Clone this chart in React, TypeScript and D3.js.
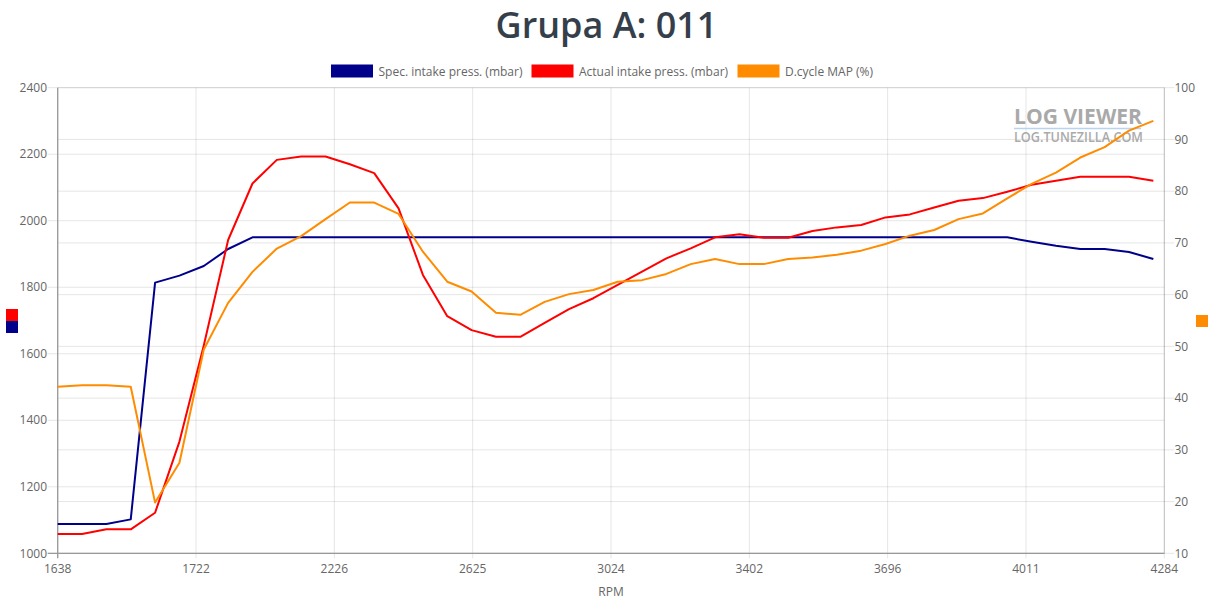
import React from "react";
import * as d3 from "d3";

const TITLE = "Grupa A: 011";
const X_TICK_LABELS = ["1638", "1722", "2226", "2625", "3024", "3402", "3696", "4011", "4284"];
const LEFT_TICKS = [1000, 1200, 1400, 1600, 1800, 2000, 2200, 2400];
const RIGHT_TICKS = [10, 20, 30, 40, 50, 60, 70, 80, 90, 100];

const SERIES_NAMES = ["Spec. intake press. (mbar)", "Actual intake press. (mbar)", "D.cycle MAP (%)"];
const SERIES_COLORS = ["#00008b", "#ff0000", "#ff8c00"];

const specIntake = [
  1088, 1088, 1088, 1102, 1814, 1835, 1864, 1915, 1950, 1950,
  1950, 1950, 1950, 1950, 1950, 1950, 1950, 1950, 1950, 1950,
  1950, 1950, 1950, 1950, 1950, 1950, 1950, 1950, 1950, 1950,
  1950, 1950, 1950, 1950, 1950, 1950, 1950, 1950, 1950, 1950,
  1937, 1925, 1915, 1915, 1906, 1885,
];

const actualIntake = [
  1058, 1058, 1072, 1072, 1122, 1336, 1625, 1942, 2112, 2183,
  2193, 2193, 2170, 2143, 2037, 1837, 1713, 1671, 1651, 1651,
  1693, 1734, 1767, 1807, 1847, 1887, 1917, 1950, 1959, 1949,
  1949, 1969, 1980, 1987, 2010, 2019, 2040, 2060, 2068, 2087,
  2108, 2120, 2132, 2132, 2132, 2120,
];

const dutyCycle = [
  42.2, 42.5, 42.5, 42.2, 19.8, 27.5, 49.4, 58.4, 64.4, 68.9,
  71.3, 74.6, 77.8, 77.8, 75.6, 68.3, 62.5, 60.6, 56.5, 56.1,
  58.6, 60.1, 60.9, 62.5, 62.8, 64.0, 65.9, 66.9, 65.9, 65.9,
  66.9, 67.2, 67.7, 68.5, 69.8, 71.4, 72.5, 74.6, 75.7, 78.6,
  81.4, 83.6, 86.5, 88.5, 91.7, 93.6,
];

const W = 1214;
const H = 600;
const PL = 57.7;
const PR = 1164.3;
const PT = 87.7;
const PB = 553.3;
const X_MAX = 45.45;

export default function App() {
  const x = d3.scaleLinear().domain([0, X_MAX]).range([PL, PR]);
  const yL = d3.scaleLinear().domain([1000, 2400]).range([PB, PT]);
  const yR = d3.scaleLinear().domain([10, 100]).range([PB, PT]);

  const lineL = d3.line<number>().x((_, i) => x(i)).y((d) => yL(d));
  const lineR = d3.line<number>().x((_, i) => x(i)).y((d) => yR(d));

  const xTickVals = X_TICK_LABELS.map((_, k) => (k * X_MAX) / (X_TICK_LABELS.length - 1));

  const font = "'Open Sans', sans-serif";
  const grid = "rgba(0,0,0,0.1)";

  const legendX = [331, 531.5, 737.5];

  return (
    <div style={{ position: "absolute", left: 0, top: 0 }}>
      <svg width={W} height={H} style={{ display: "block", fontFamily: font }}>
        <rect width={W} height={H} fill="#fff" />
        <text x={606.5} y={37.7} textAnchor="middle" fontSize={36} fontWeight={600} fill="#343f4b">
          {TITLE}
        </text>

        {SERIES_NAMES.map((n, i) => (
          <g key={n}>
            <rect x={legendX[i]} y={64.5} width={42} height={13} fill={SERIES_COLORS[i]} />
            <text x={legendX[i] + 47.5} y={75.5} fontSize={12} fill="#666">
              {n}
            </text>
          </g>
        ))}

        {LEFT_TICKS.map((t) => (
          <line key={"gl" + t} x1={PL - 10} x2={PR} y1={yL(t)} y2={yL(t)} stroke={grid} strokeWidth={1} />
        ))}
        {RIGHT_TICKS.map((t) => (
          <line key={"gr" + t} x1={PL} x2={PR + 10} y1={yR(t)} y2={yR(t)} stroke={grid} strokeWidth={1} />
        ))}
        {xTickVals.map((v, k) => (
          <line key={"gx" + k} x1={x(v)} x2={x(v)} y1={PT} y2={PB + 5} stroke={grid} strokeWidth={1} />
        ))}

        <line x1={PL} x2={PL} y1={PT} y2={PB + 5} stroke="#999" strokeWidth={1.3} />
        <line x1={PR} x2={PR} y1={PT} y2={PB} stroke="rgba(0,0,0,0.18)" strokeWidth={1} />
        <line x1={PL - 10} x2={PR} y1={PB} y2={PB} stroke="#999" strokeWidth={1.3} />

        {LEFT_TICKS.map((t) => (
          <text key={"tl" + t} x={47} y={yL(t)} dy="0.35em" textAnchor="end" fontSize={12} fill="#666">
            {t}
          </text>
        ))}
        {RIGHT_TICKS.map((t) => (
          <text key={"tr" + t} x={1174.5} y={yR(t)} dy="0.35em" textAnchor="start" fontSize={12} fill="#666">
            {t}
          </text>
        ))}
        {X_TICK_LABELS.map((l, k) => (
          <text key={"tx" + k} x={x(xTickVals[k])} y={568.5} dy="0.35em" textAnchor="middle" fontSize={12} fill="#666">
            {l}
          </text>
        ))}
        <text x={611} y={592} dy="0.35em" textAnchor="middle" fontSize={12} fill="#666">
          RPM
        </text>

        <rect x={6} y={309} width={12} height={12} fill={SERIES_COLORS[1]} />
        <rect x={6} y={321} width={12} height={12} fill={SERIES_COLORS[0]} />
        <rect x={1196} y={315} width={12} height={12} fill={SERIES_COLORS[2]} />

        <text x={1014} y={124} fontSize={22} fontWeight={700} fill="#a9a9a9" textLength={128} lengthAdjust="spacingAndGlyphs">
          LOG VIEWER
        </text>
        <line x1={1014} x2={1141} y1={128.5} y2={128.5} stroke="#b8d4ee" strokeWidth={1.5} />
        <text x={1014} y={142} fontSize={13.5} fontWeight={600} fill="#aaa" textLength={129} lengthAdjust="spacingAndGlyphs">
          LOG.TUNEZILLA.COM
        </text>

        <path d={lineL(specIntake) || ""} fill="none" stroke={SERIES_COLORS[0]} strokeWidth={2} strokeLinejoin="round" />
        <path d={lineL(actualIntake) || ""} fill="none" stroke={SERIES_COLORS[1]} strokeWidth={2} strokeLinejoin="round" />
        <path d={lineR(dutyCycle) || ""} fill="none" stroke={SERIES_COLORS[2]} strokeWidth={2} strokeLinejoin="round" />
      </svg>
    </div>
  );
}
